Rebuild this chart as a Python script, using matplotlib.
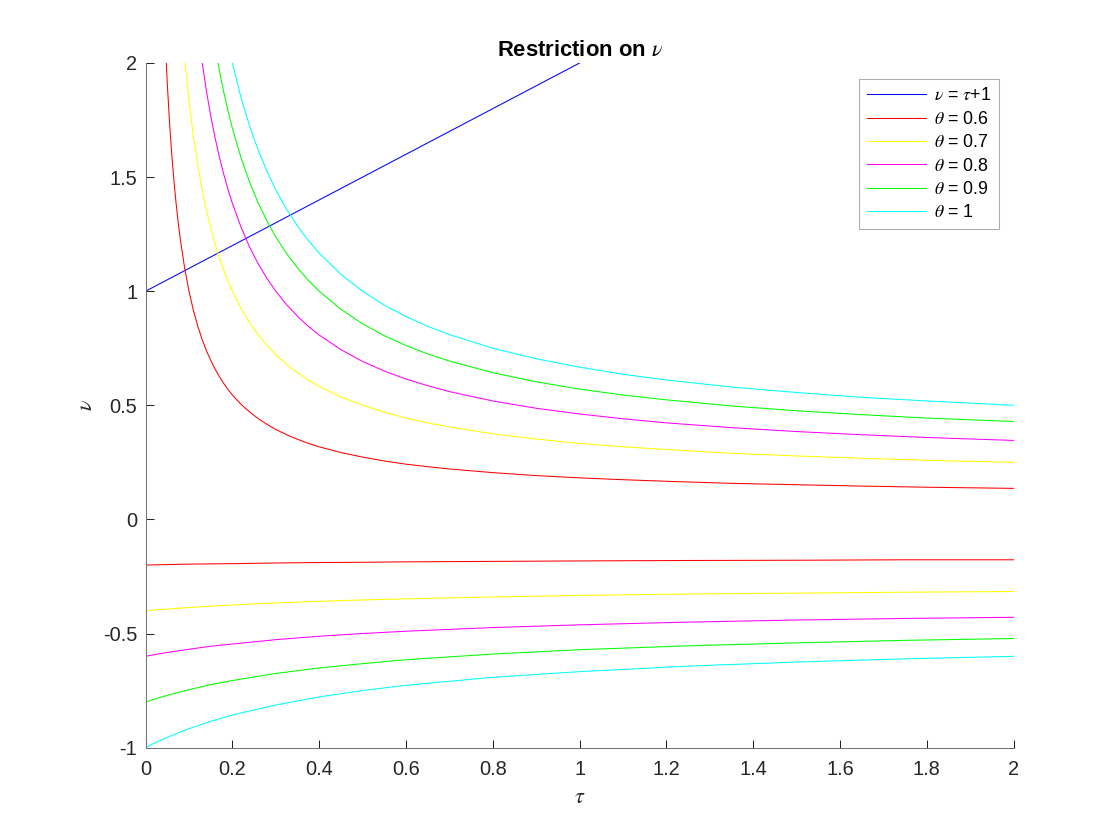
import matplotlib
matplotlib.use("Agg")
import matplotlib.pyplot as plt
from matplotlib.ticker import FuncFormatter

plt.rcParams["font.family"] = ["Liberation Sans", "DejaVu Sans"]
plt.rcParams["mathtext.fontset"] = "stix"

# values
thetas = ["0.6", "0.7", "0.8", "0.9", "1"]
colors = ["#ff0000", "#ffff00", "#ff00ff", "#00ff00", "#00ffff"]

line_tau = [0, 1]
line_nu = [1, 2]

tau_up = [0.04, 0.045, 0.05, 0.055, 0.06, 0.065, 0.07, 0.075, 0.08, 0.09, 0.1,
          0.11, 0.12, 0.13, 0.14, 0.15, 0.16, 0.17, 0.18, 0.19, 0.2,
          0.22, 0.24, 0.26, 0.28, 0.3, 0.325, 0.35, 0.375, 0.4, 0.45, 0.5,
          0.55, 0.6, 0.65, 0.7, 0.8, 0.9, 1.0, 1.1, 1.2, 1.35, 1.5, 1.65, 1.8, 2.0]
nu_up_06 = [2.364, 2.111, 1.909, 1.744, 1.606, 1.490, 1.390, 1.303, 1.227, 1.101, 1.0,
            0.917, 0.848, 0.790, 0.740, 0.697, 0.659, 0.626, 0.596, 0.569, 0.545,
            0.504, 0.470, 0.441, 0.416, 0.394, 0.371, 0.351, 0.333, 0.318, 0.293, 0.273,
            0.256, 0.242, 0.231, 0.221, 0.205, 0.192, 0.182, 0.174, 0.167, 0.158, 0.152, 0.146, 0.141, 0.136]
nu_up_07 = [4.333, 3.870, 3.5, 3.197, 2.944, 2.731, 2.548, 2.389, 2.25, 2.019, 1.833,
            1.682, 1.556, 1.449, 1.357, 1.278, 1.208, 1.147, 1.093, 1.044, 1.0,
            0.924, 0.861, 0.808, 0.762, 0.722, 0.679, 0.643, 0.611, 0.583, 0.537, 0.5,
            0.470, 0.444, 0.423, 0.405, 0.375, 0.352, 0.333, 0.318, 0.306, 0.290, 0.278, 0.268, 0.259, 0.25]
nu_up_08 = [6.0, 5.359, 4.846, 4.427, 4.077, 3.781, 3.527, 3.308, 3.115, 2.795, 2.538,
            2.329, 2.154, 2.006, 1.879, 1.769, 1.673, 1.588, 1.513, 1.445, 1.385,
            1.280, 1.192, 1.118, 1.055, 1.0, 0.941, 0.890, 0.846, 0.808, 0.744, 0.692,
            0.650, 0.615, 0.586, 0.560, 0.519, 0.487, 0.462, 0.441, 0.423, 0.402, 0.385, 0.371, 0.359, 0.346]
nu_up_09 = [7.429, 6.635, 6.0, 5.481, 5.048, 4.681, 4.367, 4.095, 3.857, 3.460, 3.143,
            2.883, 2.667, 2.484, 2.327, 2.190, 2.071, 1.966, 1.873, 1.789, 1.714,
            1.584, 1.476, 1.385, 1.306, 1.238, 1.165, 1.102, 1.048, 1.0, 0.921, 0.857,
            0.805, 0.762, 0.725, 0.694, 0.643, 0.603, 0.571, 0.545, 0.524, 0.497, 0.476, 0.459, 0.444, 0.429]
nu_up_10 = [8.667, 7.741, 7.0, 6.394, 5.889, 5.462, 5.095, 4.778, 4.5, 4.037, 3.667,
            3.364, 3.111, 2.897, 2.714, 2.556, 2.417, 2.294, 2.185, 2.088, 2.0,
            1.848, 1.722, 1.615, 1.524, 1.444, 1.359, 1.286, 1.222, 1.167, 1.074, 1.0,
            0.939, 0.889, 0.846, 0.810, 0.75, 0.704, 0.667, 0.636, 0.611, 0.580, 0.556, 0.535, 0.519, 0.5]

tau_low = [0, 0.025, 0.05, 0.1, 0.15, 0.2, 0.3, 0.4, 0.5, 0.6, 0.8, 1.0, 1.25, 1.5, 1.75, 2.0]
nu_low_06 = [-0.2, -0.199, -0.198, -0.196, -0.195, -0.194, -0.191, -0.189, -0.188, -0.186,
             -0.184, -0.182, -0.18, -0.179, -0.177, -0.177]
nu_low_07 = [-0.4, -0.396, -0.393, -0.386, -0.380, -0.375, -0.366, -0.359, -0.353, -0.348,
             -0.340, -0.333, -0.327, -0.323, -0.319, -0.316]
nu_low_08 = [-0.6, -0.591, -0.583, -0.569, -0.556, -0.546, -0.527, -0.512, -0.5, -0.490,
             -0.474, -0.462, -0.45, -0.441, -0.434, -0.429]
nu_low_09 = [-0.8, -0.785, -0.771, -0.746, -0.724, -0.706, -0.675, -0.651, -0.632, -0.615,
             -0.590, -0.571, -0.554, -0.541, -0.530, -0.522]
nu_low_10 = [-1.0, -0.976, -0.955, -0.917, -0.885, -0.857, -0.813, -0.778, -0.75, -0.727,
             -0.692, -0.667, -0.643, -0.625, -0.611, -0.6]

upper = [nu_up_06, nu_up_07, nu_up_08, nu_up_09, nu_up_10]
lower = [nu_low_06, nu_low_07, nu_low_08, nu_low_09, nu_low_10]

fig = plt.figure(figsize=(11.2, 8.4), dpi=100)
ax = fig.add_axes([0.13, 0.11, 0.775, 0.815])

lw = 0.75
ax.plot(line_tau, line_nu, color="#0000ff", lw=lw, label=r"$\nu$ = $\tau$+1")
for th, c, up, lo in zip(thetas, colors, upper, lower):
    ax.plot(tau_up, up, color=c, lw=lw, label=r"$\theta$ = " + th)
    ax.plot(tau_low, lo, color=c, lw=lw)

ax.set_xlim(0, 2)
ax.set_ylim(-1, 2)
ax.set_xticks([i * 0.2 for i in range(11)])
ax.set_yticks([-1, -0.5, 0, 0.5, 1, 1.5, 2])
fmt = FuncFormatter(lambda v, p: "%g" % round(v, 4))
ax.xaxis.set_major_formatter(fmt)
ax.yaxis.set_major_formatter(fmt)

for s in ["top", "right"]:
    ax.spines[s].set_visible(False)
for s in ["left", "bottom"]:
    ax.spines[s].set_color("0.45")
    ax.spines[s].set_linewidth(0.75)
ax.tick_params(direction="in", length=6, width=0.75, color="0.15",
               labelsize=14.4, labelcolor="0.15")
ax.tick_params(axis="x", pad=9)
ax.tick_params(axis="y", pad=6)

ax.set_xlabel(r"$\tau$", fontsize=16, color="0.15", labelpad=6)
ax.set_ylabel(r"$\nu$", fontsize=16, color="0.15", labelpad=4)
ax.set_title(r"Restriction on $\nu$", fontsize=15.8, fontweight="bold", pad=5)

leg = ax.legend(loc="upper right", bbox_to_anchor=(0.9835, 0.976), fontsize=12.8,
                frameon=True, fancybox=False, edgecolor="0.6", handlelength=3.3,
                handletextpad=0.45, labelspacing=0.36, borderpad=0.45, borderaxespad=0)
leg.get_frame().set_linewidth(0.75)

fig.savefig("out.png", dpi=100, facecolor="white")
